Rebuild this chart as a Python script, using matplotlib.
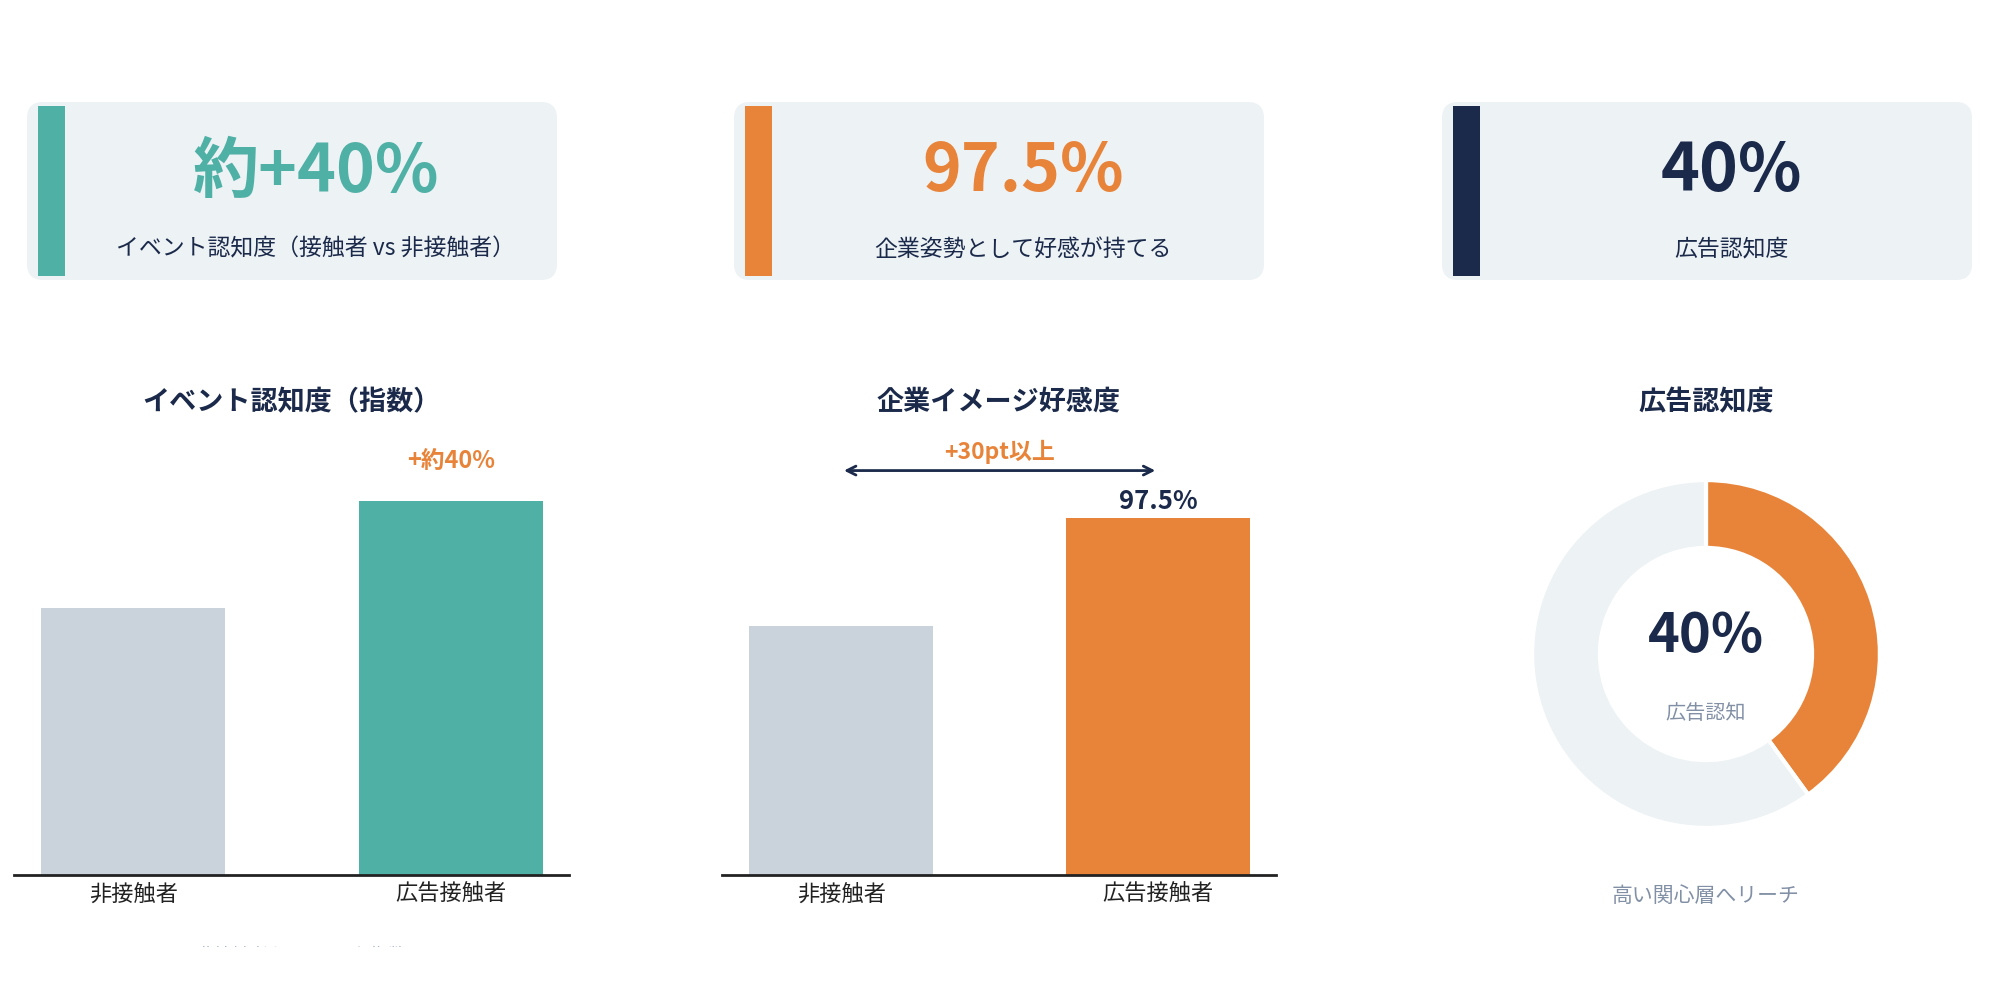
import matplotlib
matplotlib.use("Agg")
import matplotlib.pyplot as plt
from matplotlib.patches import FancyBboxPatch, Rectangle
from matplotlib.transforms import Bbox, TransformedBbox

plt.rcParams["font.family"] = ["Noto Sans CJK JP", "DejaVu Sans"]

TEAL = "#4fb0a6"
ORANGE = "#e8843a"
NAVY = "#1b2a4a"
CARD_BG = "#edf2f5"
GRAY_BAR = "#cad2dc"
GRAY_TEXT = "#8290a6"

# KPI cards
card_values = ["約+40%", "97.5%", "40%"]
card_labels = ["イベント認知度（接触者 vs 非接触者）", "企業姿勢として好感が持てる", "広告認知度"]
card_colors = [TEAL, ORANGE, NAVY]

# chart 1: event awareness index
event_groups = ["非接触者", "広告接触者"]
event_index = [100, 140]
event_note = "+約40%"

# chart 2: corporate image favourability
image_groups = ["非接触者", "広告接触者"]
image_values = [68, 97.5]
image_gap_label = "+30pt以上"

# chart 3: ad awareness donut
aware_labels = ["広告認知", "未認知"]
aware_values = [40, 60]

W, H = 1999, 981
fig = plt.figure(figsize=(W / 100, H / 100), dpi=100)

# background layer in pixel coords for the cards
bg = fig.add_axes([0, 0, 1, 1])
bg.set_xlim(0, W)
bg.set_ylim(H, 0)
bg.axis("off")

card_left = [27, 734, 1442]
card_w, card_top, card_h = 530, 102, 178
for x0, val, lab, col in zip(card_left, card_values, card_labels, card_colors):
    bg.add_patch(FancyBboxPatch((x0, card_top), card_w, card_h,
                                boxstyle="round,pad=0,rounding_size=16",
                                fc=CARD_BG, ec="none"))
    bg.add_patch(Rectangle((x0 + 11, card_top + 4), 27, card_h - 8, fc=col, ec="none"))
    cx = (x0 + 38 + x0 + card_w) / 2 + 5
    bg.text(cx, 172, val, color=col, fontsize=47.5, fontweight="bold",
            ha="center", va="center")
    bg.text(cx, 249, lab, color=NAVY, fontsize=16.5, ha="center", va="center")


def px_axes(left, right, top, bottom):
    return fig.add_axes([left / W, 1 - bottom / H, (right - left) / W, (bottom - top) / H])


def style_bar_axes(ax):
    for s in ["top", "right", "left"]:
        ax.spines[s].set_visible(False)
    ax.spines["bottom"].set_color("#222222")
    ax.spines["bottom"].set_linewidth(2)
    ax.set_yticks([])
    ax.tick_params(axis="x", length=0, labelsize=16, labelcolor="#222222", pad=6)
    ax.set_xlim(-0.376, 1.372)
    ax.patch.set_alpha(0)


# chart 1
ax1 = px_axes(14, 569, 330, 875)
ax1.bar(event_groups, event_index, width=0.58, color=[GRAY_BAR, TEAL])
style_bar_axes(ax1)
ax1.set_ylim(0, 545 / 2.67)
ax1.text(1, event_index[1] + 15, event_note, color=ORANGE, fontsize=17,
         fontweight="bold", ha="center", va="center")
ax1.text(0.5, 0.868, "イベント認知度（指数）", transform=ax1.transAxes, color=NAVY,
         fontsize=19.5, fontweight="bold", ha="center", va="center")

# chart 2
ax2 = px_axes(722, 1276, 330, 875)
ax2.bar(image_groups, image_values, width=0.58, color=[GRAY_BAR, ORANGE])
style_bar_axes(ax2)
ax2.set_ylim(0, 545 / 3.66)
ax2.annotate("", xy=(0, 110.5), xytext=(1, 110.5),
             arrowprops=dict(arrowstyle="<->", color=NAVY, lw=2,
                             mutation_scale=16))
ax2.text(0.5, 115.5, image_gap_label, color=ORANGE, fontsize=16.5,
         fontweight="bold", ha="center", va="center")
ax2.annotate(f"{image_values[1]}%", xy=(1, image_values[1]), xytext=(0, 2),
             textcoords="offset points", color=NAVY, fontsize=18.5,
             fontweight="bold", ha="center", va="bottom")
ax2.text(0.5, 0.868, "企業イメージ好感度", transform=ax2.transAxes, color=NAVY,
         fontsize=19.5, fontweight="bold", ha="center", va="center")

# chart 3 donut
cx, cy, side = 1706, 654, 400
ax3 = px_axes(cx - side / 2, cx + side / 2, cy - side / 2, cy + side / 2)
ax3.pie(aware_values, colors=[ORANGE, CARD_BG], startangle=90, counterclock=False,
        radius=1.0, wedgeprops=dict(width=0.39, edgecolor="white", linewidth=3))
ax3.set_xlim(-1.15, 1.15)
ax3.set_ylim(-1.15, 1.15)
ax3.set_aspect("equal")
ax3.axis("off")
ax3.text(0, 0.1, f"{aware_values[0]}%", color=NAVY, fontsize=39, fontweight="bold",
         ha="center", va="center")
ax3.text(0, -0.34, aware_labels[0], color=GRAY_TEXT, fontsize=14.5,
         ha="center", va="center")
ax3.text(0, -1.39, "高い関心層へリーチ", color=GRAY_TEXT, fontsize=15,
         ha="center", va="center", clip_on=False)
bg.text(cx, 402, "広告認知度", color=NAVY, fontsize=19.5, fontweight="bold",
        ha="center", va="center")

# footnote, cut off at the bottom as in the source
note = bg.text(301, 955, "非接触者を100とした指数", color="#a9b3c8", fontsize=13,
               ha="center", va="center")
note.set_clip_box(TransformedBbox(Bbox([[0, 1 - 947 / H], [1, 1]]), fig.transFigure))
note.set_clip_on(True)

fig.savefig("out.png", dpi=100, facecolor="white")
